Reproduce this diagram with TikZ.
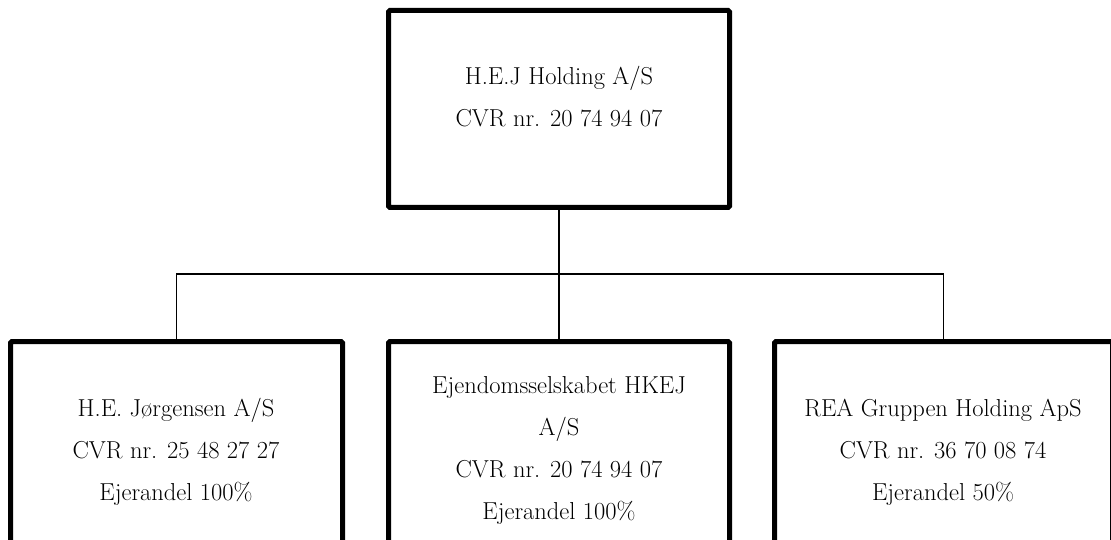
\documentclass[tikz,border=0pt]{standalone}
\begin{document}
\begin{tikzpicture}[x=1pt,y=-1pt,
  box/.style={draw=black, line width=5pt, rounded corners=1.5pt, minimum width=#1, inner sep=0pt, outer sep=0pt},
  txt/.style={align=center, font=\fontsize{24.5}{42}\selectfont, inner sep=0pt},
  conn/.style={draw=black, line width=1.2pt}]
\useasboundingbox (0,0) rectangle (1111,540);
\clip (0,0) rectangle (1111,540);
% boxes
\node[box=341pt, minimum height=197pt] (top) at (559,109) {};
\node[box=332pt, minimum height=230pt] (b1) at (176.5,456.5) {};
\node[box=341pt, minimum height=230pt] (b2) at (559,456.5) {};
\node[box=338pt, minimum height=230pt] (b3) at (943.5,456.5) {};
% texts
\node[txt] (ttop) at (559,97) {H.E.J Holding A/S\\CVR nr. 20 74 94 07};
\node[txt] (t1) at (176,452) {H.E. Jørgensen A/S\\CVR nr. 25 48 27 27\\Ejerandel 100\%};
\node[txt] (t2) at (559,450) {Ejendomsselskabet HKEJ\\A/S\\CVR nr. 20 74 94 07\\Ejerandel 100\%};
\node[txt] (t3) at (943,452) {REA Gruppen Holding ApS\\CVR nr. 36 70 08 74\\Ejerandel 50\%};
% connectors
\coordinate (j) at (559,274);
\draw[conn] (top.south) -- (j);
\draw[conn] (b1.north) |- (b3.north |- j) -- (b3.north);
\draw[conn] (j) -- (b2.north);
\end{tikzpicture}
\end{document}
